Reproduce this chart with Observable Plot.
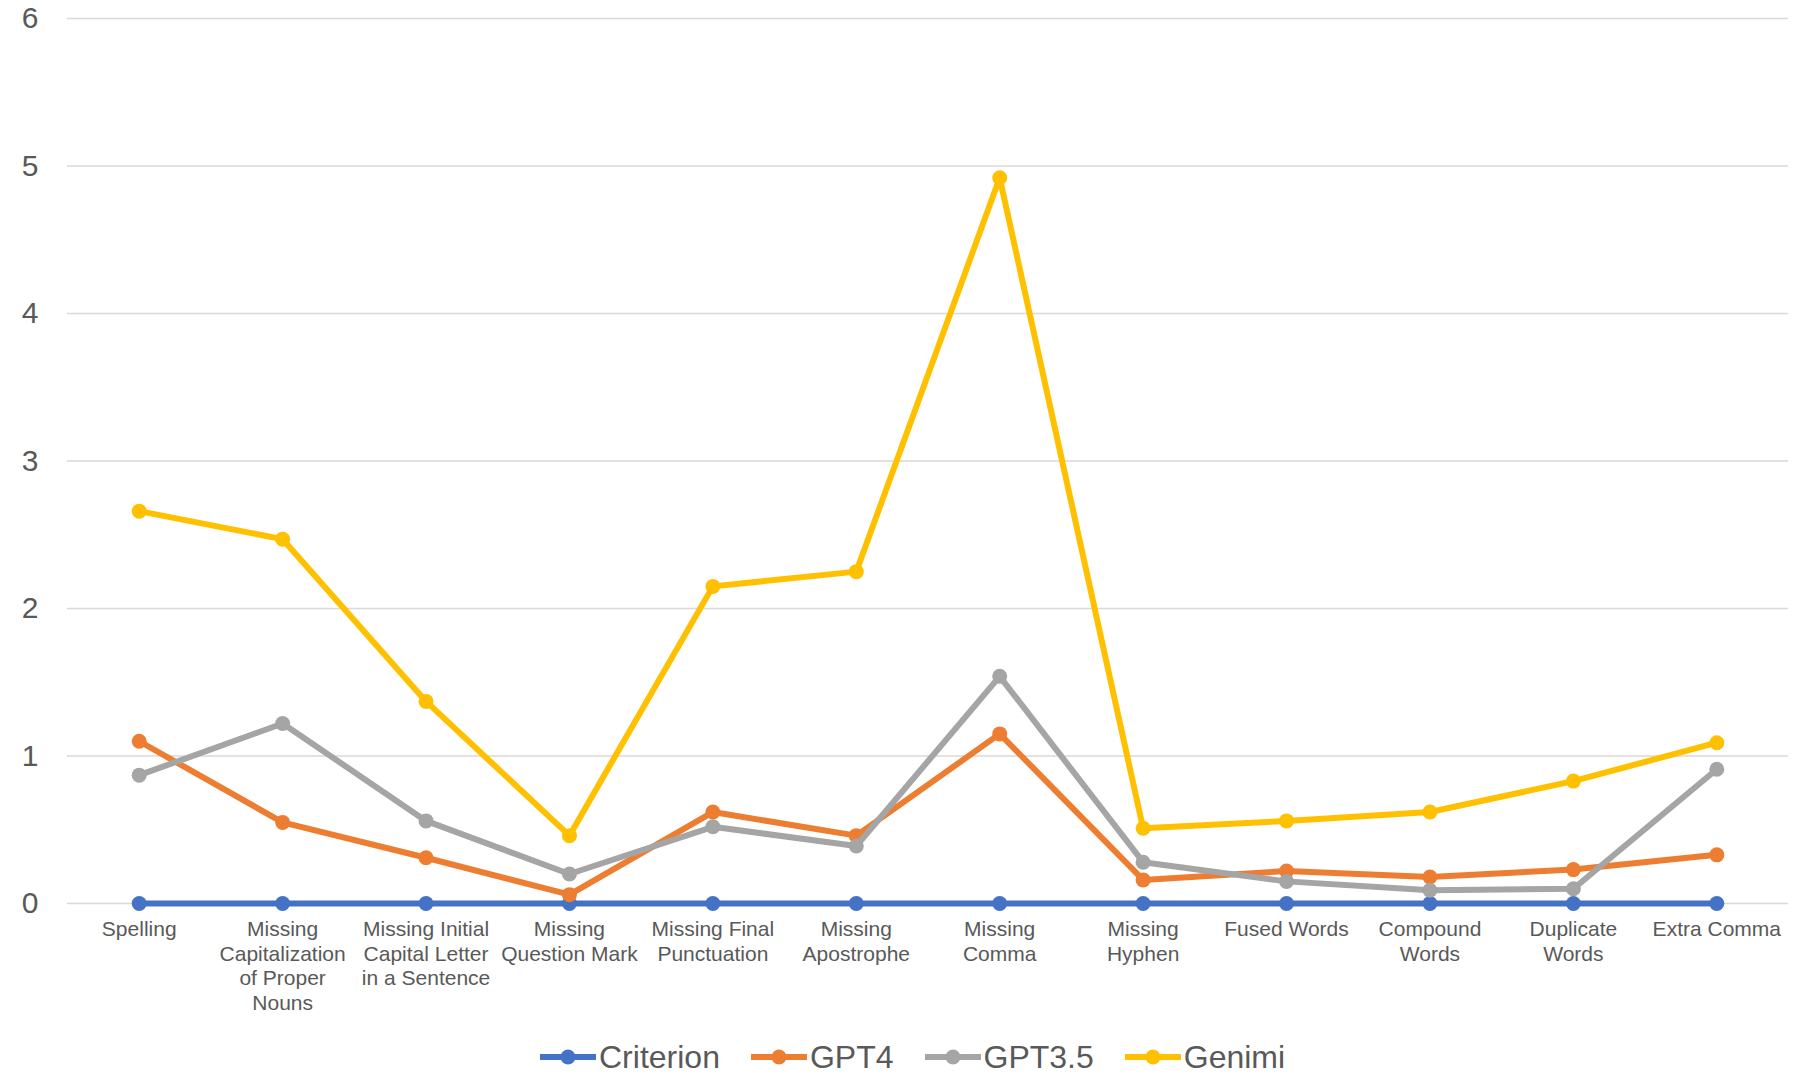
<!DOCTYPE html>
<html>
<head>
<meta charset="utf-8">
<script src="https://cdn.jsdelivr.net/npm/d3@7"></script>
<script src="https://cdn.jsdelivr.net/npm/@observablehq/plot@0.6"></script>
<style>
  html, body { margin: 0; padding: 0; background: #fff; }
  body { width: 1803px; height: 1074px; overflow: hidden; font-family: "Liberation Sans", Arial, sans-serif; }
  #legend { display: flex; align-items: center; height: 44px; margin-top: 5px; padding-left: 540px; color: #595959; font-size: 32px; }
  .item { display: flex; align-items: center; margin-right: 31px; }
  .item svg { margin-right: 3px; }
</style>
</head>
<body>
<div id="chart"></div>
<div id="legend"></div>
<script>
const categories = ["Spelling", "Missing Capitalization of Proper Nouns", "Missing Initial Capital Letter in a Sentence", "Missing Question Mark", "Missing Final Punctuation", "Missing Apostrophe", "Missing Comma", "Missing Hyphen", "Fused Words", "Compound Words", "Duplicate Words", "Extra Comma"];
const tickLabels = ["Spelling", "Missing\nCapitalization\nof Proper\nNouns", "Missing Initial\nCapital Letter\nin a Sentence", "Missing\nQuestion Mark", "Missing Final\nPunctuation", "Missing\nApostrophe", "Missing\nComma", "Missing\nHyphen", "Fused Words", "Compound\nWords", "Duplicate\nWords", "Extra Comma"];
const seriesNames = ["Criterion", "GPT4", "GPT3.5", "Genimi"];
const seriesColors = ["#4472C4", "#ED7D31", "#A5A5A5", "#FFC000"];
const criterion = [0, 0, 0, 0, 0, 0, 0, 0, 0, 0, 0, 0];
const gpt4 = [1.10, 0.55, 0.31, 0.06, 0.62, 0.46, 1.15, 0.16, 0.22, 0.18, 0.23, 0.33];
const gpt35 = [0.87, 1.22, 0.56, 0.20, 0.52, 0.39, 1.54, 0.28, 0.15, 0.09, 0.10, 0.91];
const genimi = [2.66, 2.47, 1.37, 0.46, 2.15, 2.25, 4.92, 0.51, 0.56, 0.62, 0.83, 1.09];
const yTicks = [0, 1, 2, 3, 4, 5, 6];

const seriesValues = [criterion, gpt4, gpt35, genimi];
const data = [];
seriesNames.forEach((s, i) => categories.forEach((c, j) => data.push({series: s, category: c, value: seriesValues[i][j]})));
const labelOf = new Map(categories.map((c, i) => [c, tickLabels[i]]));

const marks = [
  Plot.gridY(yTicks, {stroke: "#D9D9D9", strokeOpacity: 1, strokeWidth: 1.5}),
  Plot.axisY(yTicks, {tickSize: 0, tickPadding: 29, fontSize: 30, fill: "#595959", label: null, tickFormat: d3.format("d")}),
  Plot.axisX({tickSize: 0, tickPadding: 15, fontSize: 21, lineHeight: 1.17, fill: "#595959", label: null, tickFormat: d => labelOf.get(d)})
];
seriesNames.forEach(s => {
  const d = data.filter(r => r.series === s);
  marks.push(Plot.line(d, {x: "category", y: "value", stroke: "series", strokeWidth: 6, strokeLinejoin: "round", strokeLinecap: "round"}));
  marks.push(Plot.dot(d, {x: "category", y: "value", fill: "series", r: 7.5}));
});

const chart = Plot.plot({
  width: 1803,
  height: 1030,
  marginTop: 18,
  marginBottom: 127,
  marginLeft: 67,
  marginRight: 15,
  style: {fontFamily: "'Liberation Sans', Arial, sans-serif", background: "#fff"},
  x: {type: "point", domain: categories, padding: 0.5, round: false},
  y: {domain: [0, 6]},
  color: {domain: seriesNames, range: seriesColors},
  marks
});
document.getElementById("chart").appendChild(chart);

const legend = document.getElementById("legend");
seriesNames.forEach((s, i) => {
  const item = document.createElement("div");
  item.className = "item";
  item.innerHTML = `<svg width="56" height="18"><line x1="1" y1="9" x2="55" y2="9" stroke="${seriesColors[i]}" stroke-width="6" stroke-linecap="round"/><circle cx="28" cy="9" r="7.5" fill="${seriesColors[i]}"/></svg><span>${s}</span>`;
  legend.appendChild(item);
});
</script>
</body>
</html>
